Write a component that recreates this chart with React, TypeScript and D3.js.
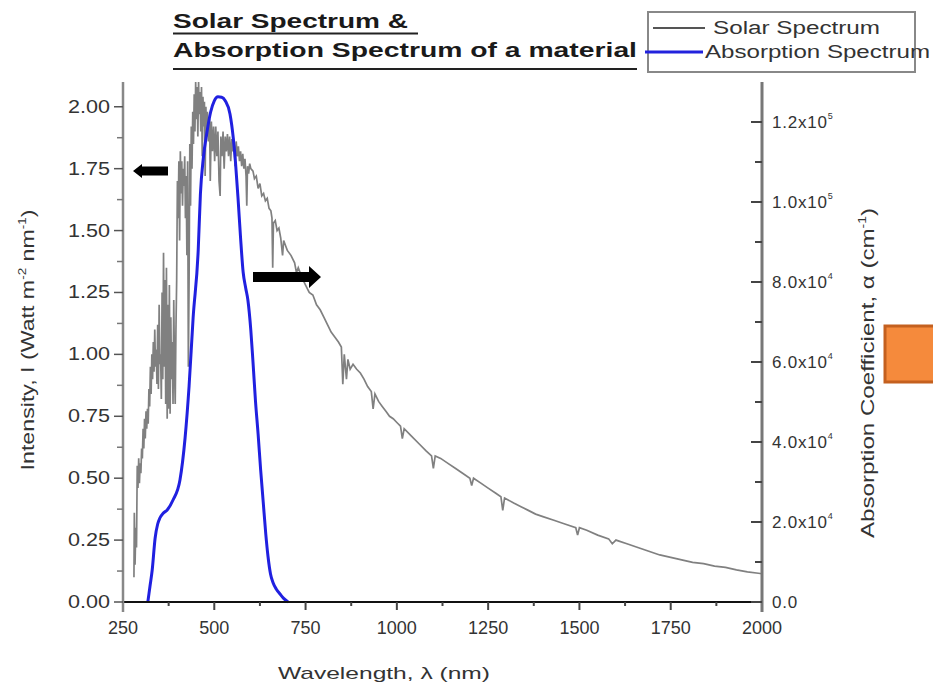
import React from "react";
import * as d3 from "d3";

// Solar spectrum: [wavelength (nm), intensity (W m^-2 nm^-1)]
const solarSpectrum: [number, number][] = [
  [280, 0.10], [281, 0.36], [283, 0.15], [285, 0.30], [287, 0.22], [289, 0.55], [291, 0.46], [293, 0.58],
  [295, 0.48], [297, 0.56], [299, 0.52], [301, 0.62], [303, 0.58], [305, 0.70], [307, 0.62], [309, 0.74],
  [311, 0.66], [313, 0.77], [315, 0.70], [317, 0.78], [319, 0.72], [321, 0.86], [323, 0.79], [325, 0.95],
  [327, 0.84], [329, 1.00], [331, 0.90], [333, 1.05], [335, 0.93], [337, 1.10], [339, 0.95], [341, 1.02],
  [343, 0.88], [345, 1.12], [347, 0.86], [349, 1.20], [351, 0.96], [353, 1.00], [355, 0.82], [357, 1.25],
  [359, 0.90], [361, 1.41], [363, 0.95], [365, 1.30], [367, 0.80], [369, 1.35], [371, 0.74], [373, 1.20],
  [375, 0.78], [377, 1.28], [379, 0.76], [381, 1.15], [383, 0.90], [385, 1.05], [387, 0.80], [389, 1.22],
  [391, 0.95], [393, 0.80], [395, 1.10], [397, 1.30], [399, 1.70], [401, 1.55], [403, 1.78], [405, 1.46],
  [407, 1.82], [409, 1.65], [411, 1.78], [413, 1.60], [415, 1.75], [417, 1.68], [419, 1.80], [421, 1.55],
  [423, 1.72], [425, 1.40], [427, 1.78], [429, 0.95], [431, 1.30], [433, 1.85], [435, 1.60], [437, 1.92],
  [439, 1.75], [441, 1.98], [443, 1.85], [445, 2.05], [447, 1.90], [449, 2.10], [451, 1.95], [453, 2.08],
  [455, 1.88], [457, 2.10], [459, 1.97], [461, 2.06], [463, 1.90], [465, 2.08], [467, 1.80], [469, 2.04],
  [471, 1.92], [473, 2.02], [475, 1.72], [477, 2.00], [479, 1.88], [481, 1.98], [484, 1.86], [487, 1.95],
  [489, 1.70], [492, 1.94], [495, 1.82], [498, 1.92], [501, 1.78], [504, 1.92], [507, 1.80], [510, 1.90],
  [513, 1.70], [516, 1.64], [518, 1.88], [521, 1.80], [524, 1.90], [527, 1.75], [530, 1.88], [533, 1.82],
  [536, 1.89], [539, 1.80], [542, 1.88], [545, 1.78], [548, 1.87], [551, 1.82], [554, 1.86], [557, 1.76],
  [560, 1.86], [563, 1.80], [566, 1.84], [569, 1.78], [572, 1.82], [575, 1.76], [578, 1.81], [581, 1.75],
  [584, 1.79], [587, 1.72], [589, 1.60], [591, 1.76], [594, 1.73], [597, 1.77], [600, 1.75], [606, 1.74],
  [610, 1.71], [615, 1.72], [620, 1.67], [625, 1.69], [630, 1.64], [635, 1.65], [640, 1.62], [645, 1.63],
  [650, 1.59], [655, 1.58], [658, 1.55], [660, 1.35], [662, 1.53], [667, 1.54], [672, 1.50], [677, 1.51],
  [682, 1.47], [687, 1.40], [690, 1.46], [695, 1.44], [700, 1.42], [710, 1.40], [720, 1.37], [725, 1.33],
  [730, 1.35], [740, 1.31], [750, 1.28], [760, 1.25], [770, 1.24], [780, 1.20], [790, 1.18], [800, 1.15],
  [810, 1.12], [820, 1.09], [830, 1.07], [840, 1.05], [848, 1.03], [852, 0.88], [856, 1.00], [862, 0.90],
  [866, 0.98], [872, 0.94], [880, 0.96], [890, 0.94], [900, 0.925], [910, 0.90], [920, 0.87], [930, 0.85],
  [935, 0.78], [940, 0.84], [950, 0.81], [960, 0.79], [970, 0.77], [980, 0.75], [990, 0.74], [1000, 0.725],
  [1010, 0.71], [1015, 0.66], [1020, 0.70], [1040, 0.67], [1060, 0.64], [1080, 0.61], [1095, 0.59], [1100, 0.54],
  [1105, 0.59], [1120, 0.58], [1140, 0.56], [1160, 0.54], [1180, 0.52], [1200, 0.50], [1205, 0.47], [1210, 0.50],
  [1230, 0.48], [1250, 0.46], [1270, 0.44], [1285, 0.425], [1290, 0.37], [1295, 0.42], [1320, 0.40], [1340, 0.385],
  [1360, 0.37], [1380, 0.355], [1400, 0.345], [1430, 0.33], [1460, 0.315], [1490, 0.30], [1495, 0.27], [1500, 0.30],
  [1520, 0.29], [1550, 0.27], [1580, 0.255], [1590, 0.235], [1600, 0.25], [1630, 0.235], [1660, 0.22], [1690, 0.205],
  [1720, 0.19], [1750, 0.18], [1780, 0.17], [1810, 0.16], [1840, 0.155], [1870, 0.145], [1900, 0.14], [1930, 0.13],
  [1960, 0.122], [1990, 0.116], [2000, 0.114],
];

// Absorption spectrum: [wavelength (nm), absorption coefficient (cm^-1)]
const absorptionSpectrum: [number, number][] = [
  [318, 0], [324, 4000], [330, 8000], [338, 16000], [345, 19500], [351, 21000], [360, 22200], [371, 23000],
  [387, 25500], [406, 30500], [420, 41000], [431, 54000], [442, 71000], [456, 88000], [462, 102000],
  [470, 111000], [480, 117500], [490, 122500], [500, 125300], [510, 126300], [520, 126200], [530, 125300],
  [543, 122000], [552, 116000], [558, 110000], [565, 101000], [572, 91000], [579, 82500], [586, 78500],
  [592, 75500], [600, 68000], [606, 60000], [613, 50000], [620, 42000], [627, 33000], [634, 25000],
  [641, 17000], [647, 11500], [654, 7000], [661, 4800], [670, 3200], [680, 2000], [690, 900], [702, 0],
];

const xMajorTicks = [250, 500, 750, 1000, 1250, 1500, 1750, 2000];
const xMinorTicks = [375, 625, 875, 1125, 1375, 1625, 1875];
const yLeftMajorTicks = [0, 0.25, 0.5, 0.75, 1.0, 1.25, 1.5, 1.75, 2.0];
const yLeftMinorTicks = [0.125, 0.375, 0.625, 0.875, 1.125, 1.375, 1.625, 1.875];
const yRightMajorTicks = [0, 20000, 40000, 60000, 80000, 100000, 120000];
const yRightMinorTicks = [10000, 30000, 50000, 70000, 90000, 110000];

const titleLines = ["Solar Spectrum &", "Absorption Spectrum of a material"];
const legendLabels = ["Solar Spectrum", "Absorption Spectrum"];

const FONT = "'Liberation Sans', Arial, Helvetica, sans-serif";

export default function App() {
  const x = d3.scaleLinear().domain([250, 2000]).range([123, 762]);
  const yL = d3.scaleLinear().domain([0, 2.1]).range([602, 82]);
  const yR = d3.scaleLinear().domain([0, 130000]).range([602, 82]);

  const solarLine = d3
    .line<[number, number]>()
    .x((d) => x(d[0]))
    .y((d) => yL(d[1]))
    .curve(d3.curveLinear);
  const absLine = d3
    .line<[number, number]>()
    .x((d) => x(d[0]))
    .y((d) => yR(d[1]))
    .curve(d3.curveMonotoneX);

  const fmtL = d3.format(".2f");
  const rightLabel = (v: number) => {
    if (v === 0) return { m: "0.0", e: "" };
    const e = Math.floor(Math.log10(v));
    return { m: (v / Math.pow(10, e)).toFixed(1) + "x10", e: String(e) };
  };

  return (
    <svg
      width={933}
      height={689}
      style={{ position: "absolute", left: 0, top: 0, background: "#fff" }}
      fontFamily={FONT}
    >
      <rect x={0} y={0} width={933} height={689} fill="#fff" />

      {/* Title */}
      <text x={173} y={28} fontSize={21} fontWeight="bold" fill="#1a1a1a" textLength={235} lengthAdjust="spacingAndGlyphs">
        {titleLines[0]}
      </text>
      <line x1={173} x2={418} y1={33.5} y2={33.5} stroke="#222" strokeWidth={2} />
      <text x={173} y={57} fontSize={21} fontWeight="bold" fill="#1a1a1a" textLength={464} lengthAdjust="spacingAndGlyphs">
        {titleLines[1]}
      </text>
      <line x1={173} x2={637} y1={69} y2={69} stroke="#222" strokeWidth={2} />

      {/* Legend */}
      <rect x={648} y={12} width={267} height={60} fill="#fff" stroke="#888" strokeWidth={2} />
      <line x1={653} x2={705} y1={28} y2={28} stroke="#555" strokeWidth={2} />
      <text x={713} y={34} fontSize={18} fill="#333" textLength={167} lengthAdjust="spacingAndGlyphs">
        {legendLabels[0]}
      </text>
      <line x1={645} x2={703} y1={52} y2={52} stroke="#2222dd" strokeWidth={3} />
      <text x={705} y={58} fontSize={18} fill="#333" textLength={225} lengthAdjust="spacingAndGlyphs">
        {legendLabels[1]}
      </text>

      {/* Data */}
      <path d={solarLine(solarSpectrum) || ""} fill="none" stroke="#555" strokeWidth={1.7} strokeOpacity={0.75} />
      <path d={absLine(absorptionSpectrum) || ""} fill="none" stroke="#2020e0" strokeWidth={3} />

      {/* Bottom axis */}
      <line x1={123} x2={762} y1={602} y2={602} stroke="#111" strokeWidth={2} />
      {xMajorTicks.map((t) => (
        <g key={"xm" + t}>
          <line x1={x(t)} x2={x(t)} y1={602} y2={610} stroke="#444" strokeWidth={2} />
          <text x={x(t)} y={634} fontSize={18} fill="#333" textAnchor="middle">
            {t}
          </text>
        </g>
      ))}
      {xMinorTicks.map((t) => (
        <line key={"xn" + t} x1={x(t)} x2={x(t)} y1={602} y2={606} stroke="#444" strokeWidth={2} />
      ))}
      <text x={278} y={679} fontSize={17} fill="#333" textLength={212} lengthAdjust="spacingAndGlyphs">
        {"Wavelength, λ (nm)"}
      </text>

      {/* Left axis */}
      <line x1={123} x2={123} y1={82} y2={612} stroke="#888" strokeWidth={2.5} />
      {yLeftMajorTicks.map((t) => (
        <g key={"yl" + t}>
          <line x1={114} x2={123} y1={yL(t)} y2={yL(t)} stroke="#555" strokeWidth={1.5} />
          <text x={110} y={yL(t) + 6} fontSize={18} fill="#333" textAnchor="end" textLength={42} lengthAdjust="spacingAndGlyphs">
            {fmtL(t)}
          </text>
        </g>
      ))}
      {yLeftMinorTicks.map((t) => (
        <line key={"yln" + t} x1={117} x2={123} y1={yL(t)} y2={yL(t)} stroke="#777" strokeWidth={1.5} />
      ))}
      <g transform="translate(34,340) rotate(-90) scale(1.22,1)">
        <text x={0} y={0} fontSize={19} fill="#333" textAnchor="middle">
          <tspan>Intensity, I (Watt m</tspan>
          <tspan fontSize={11} dy={-8}>-2</tspan>
          <tspan dy={8}> nm</tspan>
          <tspan fontSize={11} dy={-8}>-1</tspan>
          <tspan dy={8}>)</tspan>
        </text>
      </g>

      {/* Right axis */}
      <line x1={762} x2={762} y1={82} y2={612} stroke="#777" strokeWidth={3} />
      {yRightMajorTicks.map((t) => {
        const l = rightLabel(t);
        return (
          <g key={"yr" + t}>
            <line x1={751} x2={762} y1={yR(t)} y2={yR(t)} stroke="#444" strokeWidth={2} />
            <text x={772} y={yR(t) + 6} fontSize={17} fill="#333" letterSpacing={0.8}>
              <tspan>{l.m}</tspan>
              {l.e && (
                <tspan fontSize={9} dy={-9}>
                  {l.e}
                </tspan>
              )}
            </text>
          </g>
        );
      })}
      {yRightMinorTicks.map((t) => (
        <line key={"yrn" + t} x1={755} x2={762} y1={yR(t)} y2={yR(t)} stroke="#444" strokeWidth={2} />
      ))}
      <g transform="translate(874,373) rotate(-90) scale(1.27,1)">
        <text x={0} y={0} fontSize={19} fill="#333" textAnchor="middle">
          <tspan>Absorption Coefficient, α (cm</tspan>
          <tspan fontSize={11} dy={-8}>-1</tspan>
          <tspan dy={8}>)</tspan>
        </text>
      </g>

      {/* Arrows */}
      <path d="M133,171 L142,164 L142,166.5 L168,166.5 L168,175.5 L142,175.5 L142,178 Z" fill="#000" />
      <path d="M253,272 L309,272 L309,266 L321,277 L309,288 L309,282 L253,282 Z" fill="#000" />

      {/* Orange marker */}
      <rect x={885} y={326} width={60} height={56} fill="#f58a3c" stroke="#c4601f" strokeWidth={3} />
    </svg>
  );
}
